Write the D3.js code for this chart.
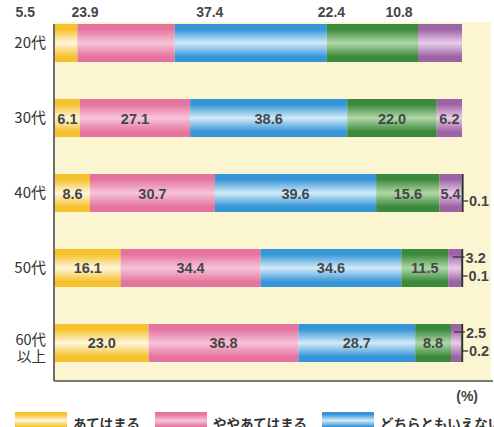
<!DOCTYPE html>
<html>
<head>
<meta charset="utf-8">
<script src="https://cdn.jsdelivr.net/npm/d3@7/dist/d3.min.js"></script>
<style>
  html, body { margin: 0; padding: 0; background: #ffffff; }
  svg { display: block; }
</style>
</head>
<body>
<svg id="chart" width="494" height="427"></svg>
<script>
// Age groups (rows) and answer categories (stacked segments)
const categories = ["20代", "30代", "40代", "50代", "60代\n以上"];
const seriesNames = ["あてはまる", "ややあてはまる", "どちらともいえない", "あまりあてはまらない", "あてはまらない", "無回答"];

// Share of answers (%) per age group
const atehamaru         = [5.5, 6.1, 8.6, 16.1, 23.0];
const yayaAtehamaru     = [23.9, 27.1, 30.7, 34.4, 36.8];
const dochiramo         = [37.4, 38.6, 39.6, 34.6, 28.7];
const amariAtehamaranai = [22.4, 22.0, 15.6, 11.5, 8.8];
const atehamaranai      = [10.8, 6.2, 5.4, 3.2, 2.5];
const mukaitou          = [0.0, 0.0, 0.1, 0.1, 0.2];

const seriesValues = [atehamaru, yayaAtehamaru, dochiramo, amariAtehamaranai, atehamaranai, mukaitou];

// Segment colours: [edge, highlight]
const seriesColors = [
  ["#f5c12c", "#fff7dc"],
  ["#e4749f", "#f7c4d9"],
  ["#3595d7", "#d2ebf9"],
  ["#3b893b", "#b0d8a8"],
  ["#9d64a5", "#e9cde9"],
  ["#2e2e2e", "#2e2e2e"]
];

const svg = d3.select("#chart");
const W = 494, H = 427;

// Gradients giving each bar a glossy horizontal highlight
const defs = svg.append("defs");
seriesColors.forEach((c, i) => {
  const g = defs.append("linearGradient")
    .attr("id", "grad" + i)
    .attr("x1", 0).attr("y1", 0).attr("x2", 0).attr("y2", 1);
  g.append("stop").attr("offset", "0%").attr("stop-color", c[0]);
  g.append("stop").attr("offset", "14%").attr("stop-color", c[0]);
  g.append("stop").attr("offset", "50%").attr("stop-color", c[1]);
  g.append("stop").attr("offset", "86%").attr("stop-color", c[0]);
  g.append("stop").attr("offset", "100%").attr("stop-color", c[0]);
});

// Layout
const plot = { left: 54, right: 491, top: 22, bottom: 381 };
const x = d3.scaleLinear().domain([0, 100]).range([55, 462]);
const y = d3.scaleBand().domain(categories).range([24, 362]).paddingInner(0.493).paddingOuter(0);

// Plot background
svg.append("rect")
  .attr("x", plot.left).attr("y", plot.top)
  .attr("width", plot.right - plot.left).attr("height", plot.bottom - plot.top)
  .attr("fill", "#fcf5d2");

// Stacked data
const rows = categories.map((cat, r) => {
  let acc = 0;
  const segs = seriesValues.map((vals, s) => {
    const seg = { cat, r, s, v: vals[r], x0: acc, x1: acc + vals[r] };
    acc += vals[r];
    return seg;
  });
  return { cat, segs, total: acc };
});

const barGroup = svg.append("g");
rows.forEach(row => {
  barGroup.selectAll(null)
    .data(row.segs.filter(d => d.v > 0))
    .join("rect")
    .attr("x", d => x(d.x0))
    .attr("y", y(row.cat))
    .attr("width", d => d.s === 5 ? Math.max(x(d.x1) - x(d.x0), 2) : x(d.x1) - x(d.x0))
    .attr("height", y.bandwidth())
    .attr("fill", d => "url(#grad" + d.s + ")");
});

// Axis lines
svg.append("line")
  .attr("x1", plot.left).attr("x2", plot.left)
  .attr("y1", 24).attr("y2", plot.bottom)
  .attr("stroke", "#4a4a4a").attr("stroke-width", 1.6);
svg.append("line")
  .attr("x1", plot.left).attr("x2", 493)
  .attr("y1", plot.bottom).attr("y2", plot.bottom)
  .attr("stroke", "#4b5440").attr("stroke-width", 1.6);

// Category labels
const yAxis = d3.axisLeft(y).tickSize(0).tickPadding(8);
const yG = svg.append("g").attr("transform", `translate(${plot.left},0)`).call(yAxis);
yG.select(".domain").remove();
yG.selectAll(".tick text")
  .attr("font-family", "'Noto Sans CJK JP', 'Noto Sans', sans-serif")
  .attr("font-size", 15)
  .attr("fill", "#333")
  .each(function(d) {
    const lines = d.split("\n");
    if (lines.length > 1) {
      const t = d3.select(this).text(null).attr("dy", null).attr("font-size", 14.5);
      lines.forEach((ln, i) => {
        t.append("tspan").attr("x", -8).attr("y", i === 0 ? 2 : 19).text(ln);
      });
    }
  });

// Value labels
const labelFont = "'Liberation Sans', Arial, sans-serif";
const fmt = d3.format(".1f");
const labelG = svg.append("g")
  .attr("font-family", labelFont)
  .attr("font-size", 14.5)
  .attr("font-weight", "bold")
  .attr("fill", "#464646");

rows.forEach((row, r) => {
  const top = y(row.cat);
  const mid = top + y.bandwidth() / 2;
  const end = x(row.total);
  row.segs.forEach(d => {
    if (d.v <= 0) return;
    const cx = (x(d.x0) + x(d.x1)) / 2;
    if (r === 0) {
      // first row: labels sit above the bar
      labelG.append("text")
        .attr("x", cx - 41).attr("y", 17)
        .attr("text-anchor", "middle")
        .attr("font-size", 14)
        .text(fmt(d.v));
    } else if (d.s === 5) {
      // tiny "no answer" sliver: tick out to the right
      svg.append("line")
        .attr("x1", end).attr("x2", end + 6)
        .attr("y1", top + 27).attr("y2", top + 27)
        .attr("stroke", "#333").attr("stroke-width", 1.3);
      labelG.append("text")
        .attr("x", end + 7).attr("y", top + 32.5)
        .text(fmt(d.v));
    } else if (d.v < 4) {
      // narrow segment: leader line to an outside label
      svg.append("line")
        .attr("x1", cx - 2).attr("x2", end + 3)
        .attr("y1", top + 8).attr("y2", top + 8)
        .attr("stroke", "#333").attr("stroke-width", 1.3);
      labelG.append("text")
        .attr("x", end + 4).attr("y", top + 14)
        .text(fmt(d.v));
    } else {
      labelG.append("text")
        .attr("x", cx).attr("y", mid + 5.5)
        .attr("text-anchor", "middle")
        .text(fmt(d.v));
    }
  });
});

// Unit
svg.append("text")
  .attr("x", 478).attr("y", 401)
  .attr("text-anchor", "end")
  .attr("font-family", labelFont)
  .attr("font-size", 14)
  .attr("font-weight", "bold")
  .attr("fill", "#444")
  .text("(%)");

// Legend: three entries per row; only rows that start inside the canvas are drawn
const legendX = [15, 155, 322];
const legendTop = 412, legendStep = 24;
const legendItems = seriesNames
  .map((name, i) => ({ name, i, col: i % 3, row: Math.floor(i / 3) }))
  .filter(d => legendTop + d.row * legendStep < H);
const legendG = svg.append("g");
legendItems.forEach(d => {
  const gx = legendX[d.col], gy = legendTop + d.row * legendStep;
  legendG.append("rect")
    .attr("x", gx).attr("y", gy)
    .attr("width", 52).attr("height", 17)
    .attr("fill", "url(#grad" + d.i + ")");
  legendG.append("text")
    .attr("x", gx + 58).attr("y", gy + 17)
    .attr("font-family", "'Noto Sans CJK JP', sans-serif")
    .attr("font-size", 13.5)
    .attr("font-weight", "bold")
    .attr("fill", "#333")
    .text(d.name);
});
</script>
</body>
</html>
